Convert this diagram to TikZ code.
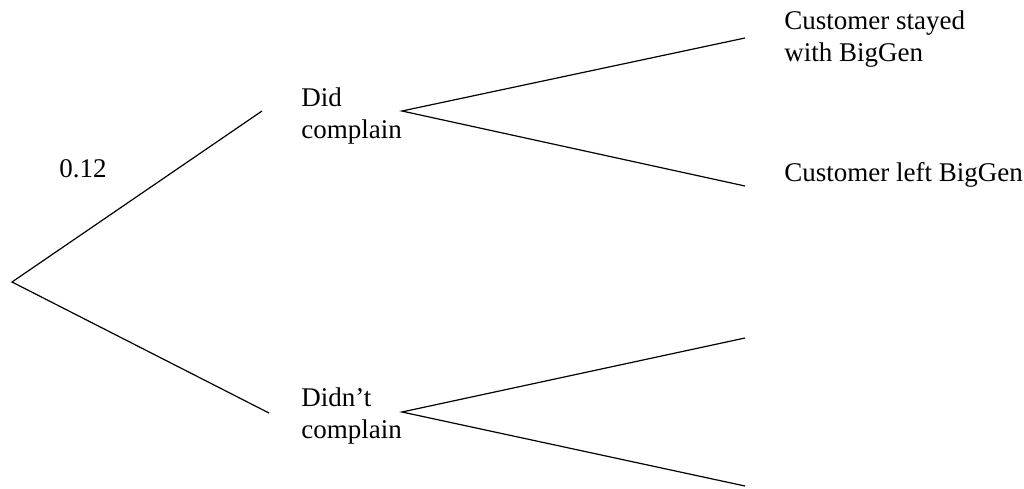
\documentclass[tikz,border=0pt]{standalone}
\usepackage{fontspec}
\setmainfont{Liberation Serif}
\tikzset{
  branch/.style={line width=0.6pt},
  outcome/.style={anchor=base west, inner sep=0pt, align=left,
    font=\fontsize{13.5}{15.8}\selectfont}
}
\begin{document}
\begin{tikzpicture}[x=0.5pt,y=-0.5pt]
    \useasboundingbox (0,0) rectangle (1024,488);
    % first stage (base = last line)
    \coordinate (root) at (12,282);
    \coordinate (dcin) at (262,111);
    \coordinate (dcout) at (402,111);
    \coordinate (dncin) at (269,413);
    \coordinate (dncout) at (402,412);
    \node[outcome] (dc) at (301,138) {Did\\complain};
    \node[outcome] (dnc) at (301,438) {Didn't\\complain};
    \node[outcome] (p) at (59,177) {0.12};
    \draw[branch] (dcin)--(root)--(dncin);
    % second stage
    \coordinate (stayend) at (745,38);
    \coordinate (leftend) at (745,186);
    \coordinate (upend) at (745,338);
    \coordinate (downend) at (745,486);
    \node[outcome] (stay) at (784,61) {Customer stayed\\with BigGen};
    \node[outcome] (left) at (784,181) {Customer left BigGen};
    \draw[branch] (stayend)--(dcout)--(leftend);
    \draw[branch] (upend)--(dncout)--(downend);
  \end{tikzpicture}
\end{document}
